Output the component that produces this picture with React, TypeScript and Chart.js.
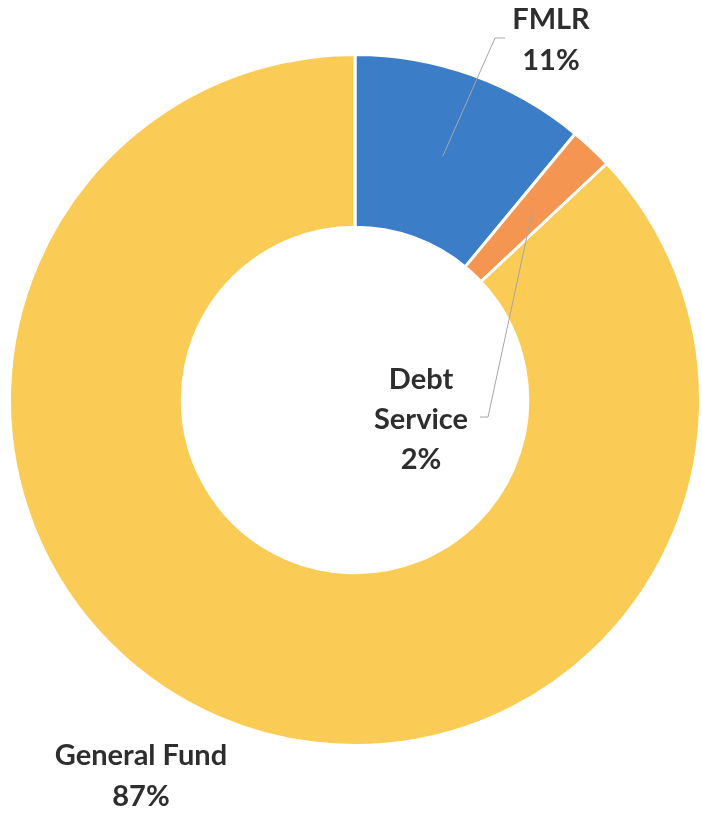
import React, { useEffect, useRef } from "react";
import { Chart, registerables } from "chart.js";

Chart.register(...registerables);

const categories = ["FMLR", "Debt Service", "General Fund"];
const shares = [11, 2, 87];
const percentLabels = ["11%", "2%", "87%"];
const sliceColors = ["#3C7DC8", "#F59552", "#FACB55"];

// label layout (text lines, centre positions, leader elbow points)
const labelLayout = [
  { lines: ["FMLR", percentLabels[0]], x: 551, y: 20, gap: 41, leader: [[495, 38], [505, 38]] },
  { lines: ["Debt", "Service", percentLabels[1]], x: 421, y: 380, gap: 40, leader: [[488, 417], [480, 417]] },
  { lines: ["General Fund", percentLabels[2]], x: 141, y: 756, gap: 41, leader: null },
];

const labelPlugin = {
  id: "calloutLabels",
  afterDatasetsDraw(chart: any) {
    const ctx = chart.ctx;
    const meta = chart.getDatasetMeta(0);
    ctx.save();
    labelLayout.forEach((lab, i) => {
      const arc = meta.data[i];
      if (lab.leader && arc) {
        const p = arc.tooltipPosition(false);
        ctx.beginPath();
        ctx.strokeStyle = "#A6A6A6";
        ctx.lineWidth = 1;
        ctx.moveTo(p.x, p.y);
        lab.leader.forEach((pt: number[]) => ctx.lineTo(pt[0], pt[1]));
        ctx.stroke();
      }
      ctx.fillStyle = "#2E2E2E";
      ctx.font = "bold 29px Lato";
      ctx.textAlign = "center";
      ctx.textBaseline = "middle";
      lab.lines.forEach((t, k) => ctx.fillText(t, lab.x, lab.y + k * lab.gap));
    });
    ctx.restore();
  },
};

export default function App() {
  const ref = useRef<HTMLCanvasElement>(null);
  useEffect(() => {
    if (!ref.current) return;
    const chart = new Chart(ref.current, {
      type: "doughnut",
      data: {
        labels: categories,
        datasets: [
          {
            data: shares,
            backgroundColor: sliceColors,
            borderColor: "#FFFFFF",
            borderWidth: 3,
          },
        ],
      },
      options: {
        responsive: false,
        animation: false,
        devicePixelRatio: 1,
        cutout: "50%",
        layout: { padding: { left: 8, right: 0, top: 53, bottom: 68 } },
        plugins: { legend: { display: false }, tooltip: { enabled: false } },
      },
      plugins: [labelPlugin],
    });
    (document as any).fonts?.load("bold 29px Lato").then(() => chart.draw());
    return () => chart.destroy();
  }, []);
  return (
    <div style={{ position: "absolute", left: 0, top: 0, width: 702, height: 815, background: "#fff" }}>
      <canvas ref={ref} width={702} height={815} />
    </div>
  );
}
